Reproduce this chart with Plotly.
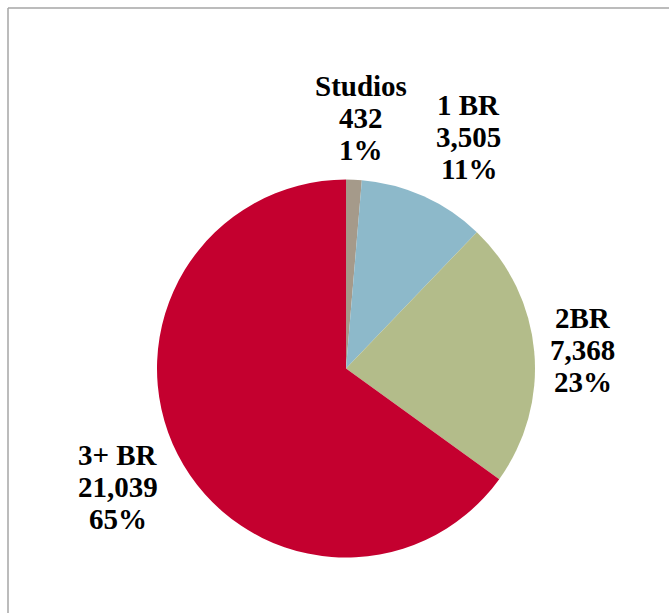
import math
import plotly.graph_objects as go

# Unit mix by bedroom count
categories = ["Studios", "1 BR", "2BR", "3+ BR"]
units = [432, 3505, 7368, 21039]
colors = ["#A59A8A", "#8DB9CA", "#B3BC8A", "#C4002F"]

W, H = 669, 613
CX, CY, R = 346, 368.5, 189  # pie centre and radius in pixels

fig = go.Figure(
    go.Pie(
        labels=categories,
        values=units,
        sort=False,
        direction="clockwise",
        rotation=0,
        marker=dict(colors=colors, line=dict(width=0)),
        textinfo="none",
        hoverinfo="label+value+percent",
        showlegend=False,
        domain=dict(
            x=[(CX - R) / W, (CX + R) / W],
            y=[1 - (CY + R) / H, 1 - (CY - R) / H],
        ),
    )
)

# Data labels placed outside each slice along its mid-angle
gap = 18
half_w, half_h = 40, 46
line_step = 32
nudge = {"Studios": (5, 2), "1 BR": (21, -1), "2BR": (-9, 4), "3+ BR": (-8, 3)}
label_font = dict(family="'Liberation Serif', 'Times New Roman', serif",
                  size=29, color="#000000")
total = sum(units)
cum = 0
annotations = []
for name, v in zip(categories, units):
    mid = (cum + v / 2) / total * 2 * math.pi
    cum += v
    s, c = math.sin(mid), math.cos(mid)
    px = CX + (R + gap) * s + half_w * s
    py = CY - (R + gap) * c - half_h * c
    dx, dy = nudge.get(name, (0, 0))
    px += dx
    py += dy
    pct = round(v / total * 100)
    lines = [name, f"{v:,}", f"{pct}%"]
    for i, line in enumerate(lines):
        ly = py + (i - 1) * line_step
        annotations.append(
            dict(
                x=px / W,
                y=1 - ly / H,
                xref="paper",
                yref="paper",
                xanchor="center",
                yanchor="middle",
                showarrow=False,
                text=f"<b>{line}</b>",
                font=label_font,
            )
        )

fig.update_layout(
    width=W,
    height=H,
    margin=dict(l=0, r=0, t=0, b=0),
    paper_bgcolor="#FFFFFF",
    plot_bgcolor="#FFFFFF",
    annotations=annotations,
    shapes=[
        dict(type="line", xref="paper", yref="paper",
             x0=8 / W, x1=8 / W, y0=-0.05, y1=1 - 8 / H,
             line=dict(color="#A6A6A6", width=1.5)),
        dict(type="line", xref="paper", yref="paper",
             x0=8 / W, x1=1.05, y0=1 - 8 / H, y1=1 - 8 / H,
             line=dict(color="#A6A6A6", width=1.5)),
    ],
)

fig.write_html("out.html")
